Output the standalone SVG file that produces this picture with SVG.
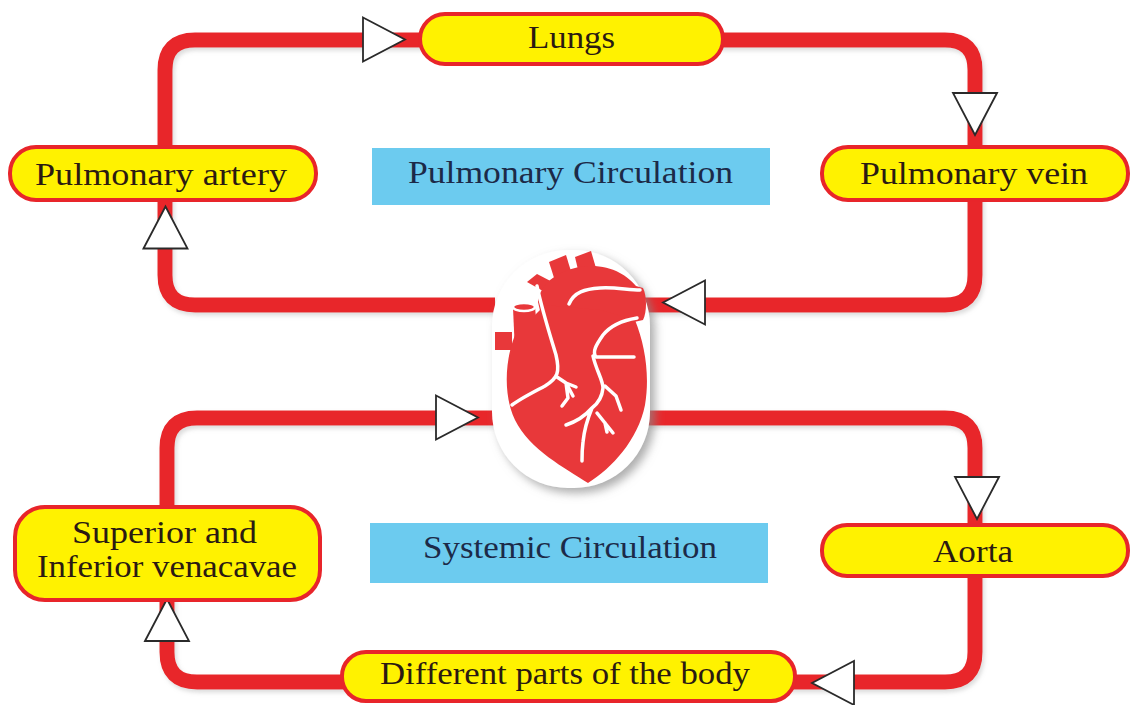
<svg xmlns="http://www.w3.org/2000/svg" width="1131" height="705" viewBox="0 0 1131 705">
  <defs>
    <style>
      .vessel { fill: none; stroke: #e8252a; stroke-width: 15; stroke-linejoin: round; }
      .node { fill: #fff200; stroke: #e8252a; stroke-width: 4; }
      .band { fill: #6ccbef; }
      .label { font-family: "Liberation Serif", "Times New Roman", serif; font-size: 31px; fill: #2b1a12; }
      .title { font-family: "Liberation Serif", "Times New Roman", serif; font-size: 31px; fill: #1c2a48; }
      .arrow { fill: #ffffff; stroke: #2a2a2a; stroke-width: 1.8; stroke-linejoin: miter; }
      .muscle { fill: #e8383a; }
      .coronary { fill: none; stroke: #ffffff; stroke-width: 3.5; stroke-linecap: round; stroke-linejoin: round; }
    </style>
    <!-- flow arrowhead, pointing right, centred on the origin -->
    <path id="tri" d="M -21 -22 L 21 0 L -21 22 Z"/>
    <filter id="soft" x="-20%" y="-20%" width="150%" height="150%">
      <feDropShadow dx="5" dy="5" stdDeviation="5" flood-color="#8a8a8a" flood-opacity="0.7"/>
    </filter>
    <filter id="lineshadow" x="-5%" y="-5%" width="110%" height="110%">
      <feDropShadow dx="2" dy="3" stdDeviation="2" flood-color="#9a9a9a" flood-opacity="0.35"/>
    </filter>
  </defs>

  <rect width="1131" height="705" fill="#ffffff"/>

  <!-- circulation loops -->
  <g id="connectors" filter="url(#lineshadow)">
    <path class="vessel" d="M 495 305 L 195 305 Q 165 305 165 275 L 165 70 Q 165 40 195 40 L 945 40 Q 975 40 975 70 L 975 275 Q 975 305 945 305 L 645 305"/>
    <path class="vessel" d="M 495 418 L 197 418 Q 167 418 167 448 L 167 652 Q 167 682 197 682 L 945 682 Q 975 682 975 652 L 975 448 Q 975 418 945 418 L 645 418"/>
  </g>

  <!-- direction arrowheads -->
  <g id="arrows">
    <use href="#tri" class="arrow" transform="translate(384 39.5)"/>
    <use href="#tri" class="arrow" transform="translate(975 114) rotate(90)"/>
    <use href="#tri" class="arrow" transform="translate(684 302.5) rotate(180)"/>
    <use href="#tri" class="arrow" transform="translate(165.5 227.5) rotate(-90)"/>
    <use href="#tri" class="arrow" transform="translate(457 417.5)"/>
    <use href="#tri" class="arrow" transform="translate(977 498) rotate(90)"/>
    <use href="#tri" class="arrow" transform="translate(833 683) rotate(180)"/>
    <use href="#tri" class="arrow" transform="translate(167 620) rotate(-90)"/>
  </g>

  <!-- heart in its white bubble -->
  <g id="heart">
    <rect x="492" y="250" width="158" height="238" rx="76" ry="76" fill="#ffffff" filter="url(#soft)"/>
    <!-- left stub and superior vena cava -->
    <rect class="muscle" x="495" y="332" width="17" height="18"/>
    <path class="muscle" d="M 513 308 L 535 305 L 538 350 L 515 352 Z"/>
    <ellipse cx="524" cy="307" rx="11" ry="4" fill="#e8383a" stroke="#ffffff" stroke-width="2.5"/>
    <!-- great vessels on the arch -->
    <path class="muscle" d="M 527 282 L 537 274 L 564 288 L 557 299 Z"/>
    <path class="muscle" d="M 549 262 L 566 255 L 574 281 L 556 284 Z"/>
    <path class="muscle" d="M 575 257 L 591 251 L 598 275 L 580 278 Z"/>
    <!-- arch and pulmonary trunk -->
    <path class="muscle" d="M 538 302 C 540 283, 560 268, 588 266 C 612 265, 628 276, 636 286 L 643 288 C 647 296, 647 312, 643 320 L 625 324 L 600 332 L 545 332 Z"/>
    <!-- ventricles -->
    <path class="muscle" d="M 515 335 C 505 360, 503 395, 515 420 C 530 450, 565 468, 588 483 C 612 468, 638 440, 645 405 C 650 375, 645 345, 635 320 L 600 310 L 545 305 Z"/>
    <!-- coronary vessels -->
    <path class="coronary" d="M 537 286 C 542 310, 550 335, 556 355 C 560 372, 558 378, 545 386 C 530 394, 520 399, 512 405"/>
    <path class="coronary" d="M 557 377 L 566 383 L 576 387 M 566 383 L 568 398 L 562 406 M 566 383 L 573 396"/>
    <path class="coronary" d="M 569 304 C 574 292, 585 289, 600 288 C 615 287, 628 290, 640 290"/>
    <path class="coronary" d="M 637 318 C 625 320, 611 325, 603 335 C 596 345, 592 352, 596 357 L 634 357"/>
    <path class="coronary" d="M 593 356 C 596 370, 603 380, 603 388 C 602 398, 596 405, 592 408 C 585 416, 575 422, 566 425 M 592 408 C 587 420, 584 432, 583 442 C 582 450, 582 456, 582 461"/>
    <path class="coronary" d="M 605 386 L 616 396 L 621 410 M 597 413 L 605 423 L 613 433 M 605 423 L 607 432"/>
  </g>

  <!-- captions -->
  <g id="pulmonary-circulation">
    <rect class="band" x="372" y="148" width="398" height="57"/>
    <text class="title" x="408" y="183" textLength="325" lengthAdjust="spacingAndGlyphs">Pulmonary Circulation</text>
  </g>
  <g id="systemic-circulation">
    <rect class="band" x="370" y="523" width="398" height="60"/>
    <text class="title" x="423" y="558" textLength="294" lengthAdjust="spacingAndGlyphs">Systemic Circulation</text>
  </g>

  <!-- stations along the loops -->
  <g id="lungs">
    <rect class="node" x="420" y="14" width="303" height="50" rx="25"/>
    <text class="label" x="528" y="48" textLength="87" lengthAdjust="spacingAndGlyphs">Lungs</text>
  </g>
  <g id="pulmonary-artery">
    <rect class="node" x="10" y="147" width="306" height="53" rx="26"/>
    <text class="label" x="35" y="185" textLength="252" lengthAdjust="spacingAndGlyphs">Pulmonary artery</text>
  </g>
  <g id="pulmonary-vein">
    <rect class="node" x="822" y="147" width="306" height="53" rx="26"/>
    <text class="label" x="860" y="184" textLength="228" lengthAdjust="spacingAndGlyphs">Pulmonary vein</text>
  </g>
  <g id="venae-cavae">
    <rect class="node" x="15" y="507" width="305" height="93" rx="30"/>
    <text class="label" x="72" y="543" textLength="185" lengthAdjust="spacingAndGlyphs">Superior and</text>
    <text class="label" x="37" y="577" textLength="260" lengthAdjust="spacingAndGlyphs">Inferior venacavae</text>
  </g>
  <g id="aorta">
    <rect class="node" x="822" y="525" width="306" height="51" rx="25"/>
    <text class="label" x="933" y="562" textLength="80" lengthAdjust="spacingAndGlyphs">Aorta</text>
  </g>
  <g id="body-parts">
    <rect class="node" x="342" y="652" width="453" height="49" rx="24"/>
    <text class="label" x="380" y="684" textLength="370" lengthAdjust="spacingAndGlyphs">Different parts of the body</text>
  </g>
</svg>
